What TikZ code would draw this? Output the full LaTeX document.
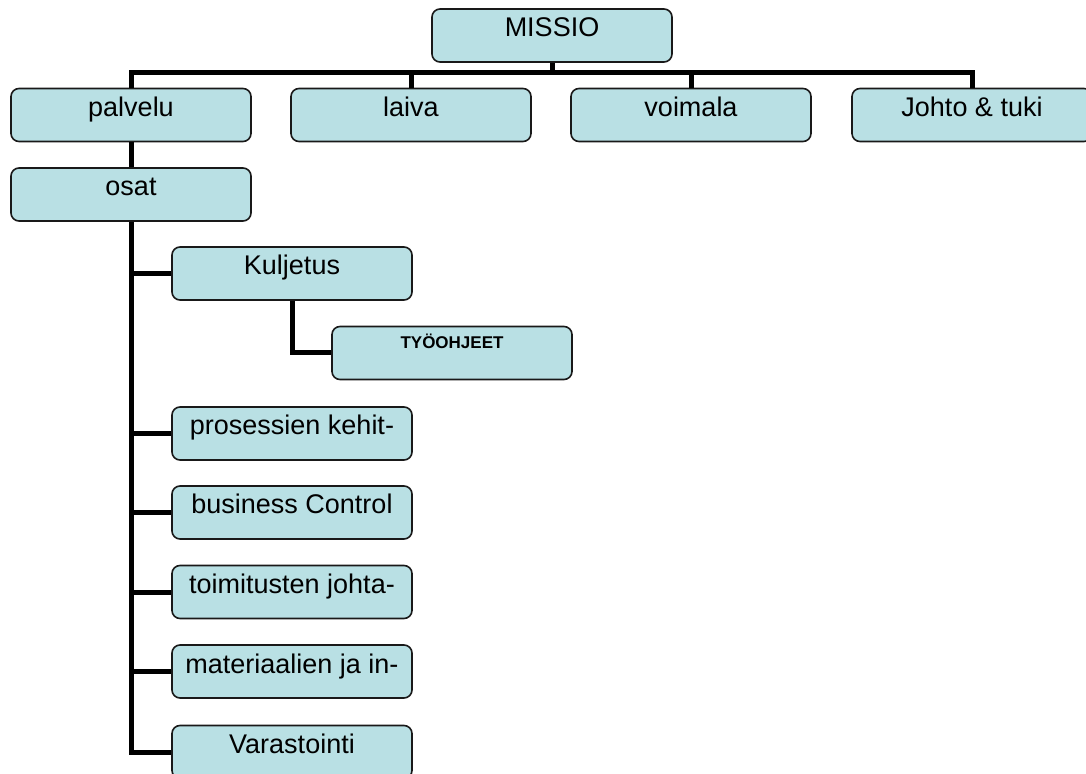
\documentclass[tikz,border=0pt]{standalone}
\usepackage{fontspec}
\setmainfont{Liberation Sans}
\usetikzlibrary{positioning}
\definecolor{boxfill}{RGB}{185,224,228}
\definecolor{boxline}{RGB}{25,25,25}

\begin{document}
\begin{tikzpicture}[x=0.5pt, y=-0.5pt,
    unit/.style={draw=boxline, line width=0.8pt, fill=boxfill, rounded corners=4pt,
      minimum width=120pt, inner sep=0pt, text height=14pt, text depth=12.5pt,
      font=\fontsize{13.5}{15}\selectfont},
    subunit/.style={unit, text height=11pt, text depth=15.5pt,
      font=\fontsize{8.5}{10}\selectfont\bfseries},
    conn/.style={line width=2.5pt, line join=miter}]
      \useasboundingbox (0, 0) rectangle (1086, 774);
      % top level
      \node[unit] (missio) at (552, 35.5) {MISSIO};
      \node[unit] (palvelu) at (131, 115) {palvelu};
      \node[unit] (laiva) at (411, 115) {laiva};
      \node[unit] (voimala) at (691, 115) {voimala};
      \node[unit] (johto) at (972, 115) {Johto \& tuki};
      \node[unit] (osat) at (131, 194.5) {osat};
      % children of osat
      \node[unit] (kuljetus) at (292, 273.5) {Kuljetus};
      \node[subunit] (tyoohjeet) at (452, 353) {TYÖOHJEET};
      \node[unit] (prosessit) at (292, 433.5) {prosessien kehit-};
      \node[unit] (control) at (292, 512.5) {business Control};
      \node[unit] (toimitus) at (292, 592) {toimitusten johta-};
      \node[unit] (materiaali) at (292, 671.5) {materiaalien ja in-};
      \node[unit] (varasto) at (292, 752) {Varastointi};
      \coordinate (bus) at (552, 73);
      % connectors
      \draw[conn] (missio.south) -- (bus);
      \draw[conn] (palvelu.north) |- (bus) -| (johto.north);
      \draw[conn] (laiva.north) -- (laiva.north |- bus);
      \draw[conn] (voimala.north) -- (voimala.north |- bus);
      \draw[conn] (palvelu.south) -- (osat.north);
      \draw[conn] (osat.south) |- (varasto.west);
      \foreach \n in {kuljetus, prosessit, control, toimitus, materiaali}
        \draw[conn] (\n.west) -- (\n.west -| osat.south);
      \draw[conn] (kuljetus.south) |- (tyoohjeet.west);
    \end{tikzpicture}
\end{document}
